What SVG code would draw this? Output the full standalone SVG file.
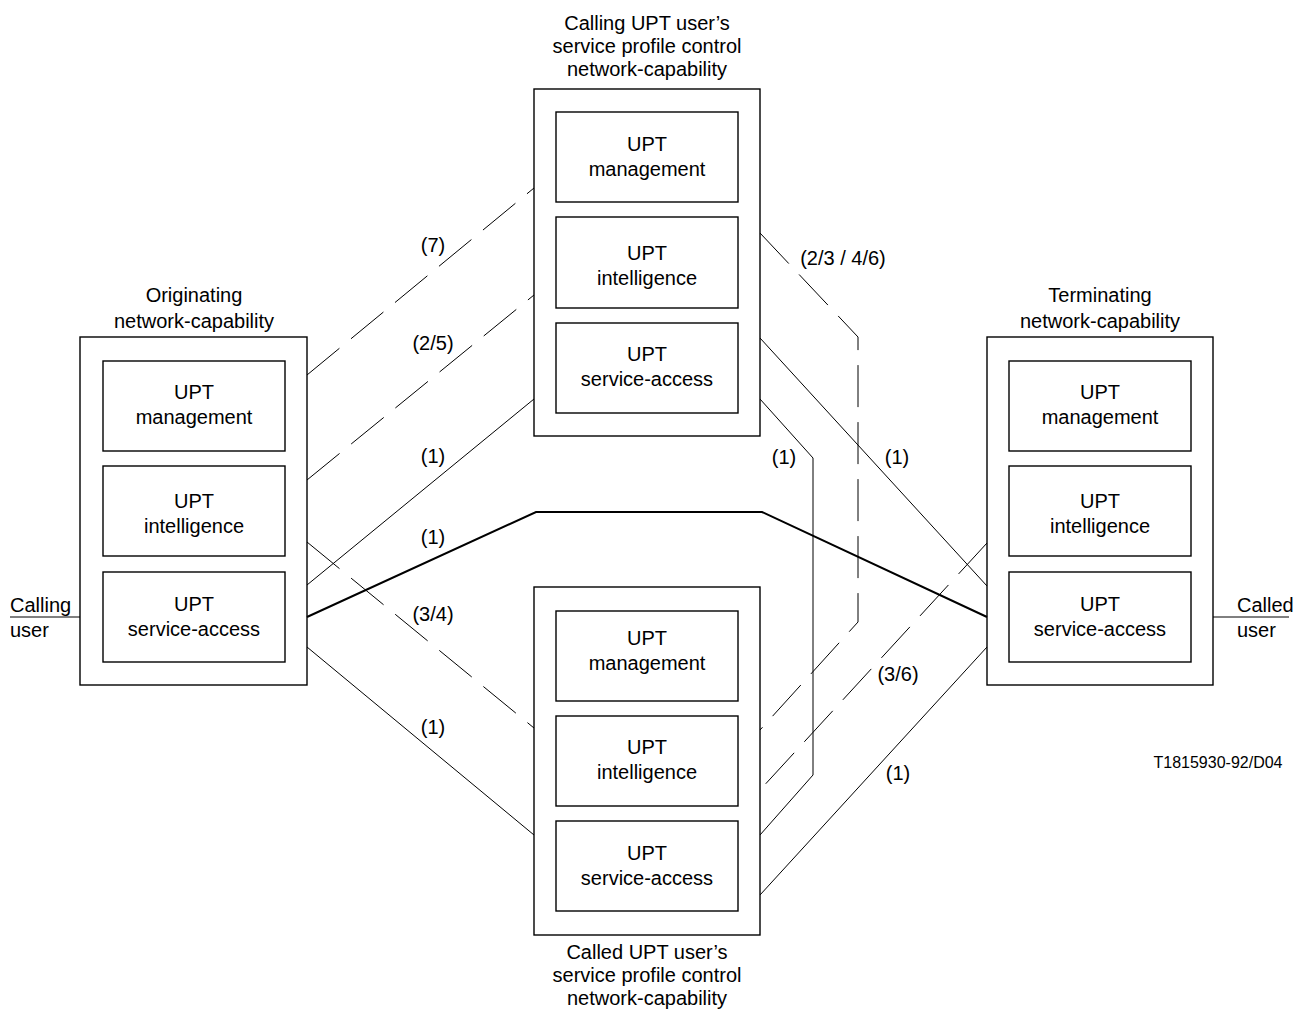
<svg xmlns="http://www.w3.org/2000/svg" width="1308" height="1014" viewBox="0 0 1308 1014">
<style>
text{font-family:"Liberation Sans",Arial,sans-serif;font-size:20px;fill:#000;text-anchor:middle}
.box{fill:none;stroke:#000;stroke-width:1.4}
.ln{fill:none;stroke:#000;stroke-width:1}
.dash{fill:none;stroke:#000;stroke-width:1;stroke-dasharray:42 15}
.thick{fill:none;stroke:#000;stroke-width:2}
</style>
<rect width="1308" height="1014" fill="#fff"/>
<g id="connectors">
<line class="dash" x1="307" y1="375" x2="534" y2="188"/>
<line class="dash" x1="307" y1="480" x2="534" y2="295"/>
<line class="ln" x1="307" y1="585" x2="534" y2="399"/>
<polyline class="thick" points="307,617 536,512 762,512 987,617"/>
<line class="dash" x1="307" y1="542" x2="534" y2="728"/>
<line class="ln" x1="307" y1="647" x2="534" y2="835"/>
<polyline class="dash" points="760,233 858,337 858,622 760,730"/>
<line class="ln" x1="760" y1="338" x2="987" y2="586"/>
<polyline class="ln" points="760,399 813,458 813,775 760,835"/>
<line class="dash" x1="987" y1="543" x2="760" y2="790"/>
<line class="ln" x1="987" y1="647" x2="760" y2="895"/>
<line class="ln" x1="10" y1="617" x2="80" y2="617"/>
<line class="ln" x1="1213" y1="617" x2="1289" y2="617"/>
</g>
<g id="labels">
<text x="433" y="252">(7)</text>
<text x="433" y="350">(2/5)</text>
<text x="433" y="463">(1)</text>
<text x="433" y="544">(1)</text>
<text x="433" y="621">(3/4)</text>
<text x="433" y="734">(1)</text>
<text x="843" y="265">(2/3 / 4/6)</text>
<text x="784" y="464">(1)</text>
<text x="897" y="464">(1)</text>
<text x="898" y="681">(3/6)</text>
<text x="898" y="780">(1)</text>
<text x="1218" y="768" style="font-size:16px">T1815930-92/D04</text>
<text x="10" y="612" style="text-anchor:start">Calling</text>
<text x="10" y="637" style="text-anchor:start">user</text>
<text x="1237" y="612" style="text-anchor:start">Called</text>
<text x="1237" y="637" style="text-anchor:start">user</text>
</g>
<g id="originating">
<text x="194" y="302">Originating</text>
<text x="194" y="328">network-capability</text>
<rect class="box" x="80" y="337" width="227" height="348"/>
<rect class="box" x="103" y="361" width="182" height="90"/>
<text x="194" y="399">UPT</text><text x="194" y="424">management</text>
<rect class="box" x="103" y="466" width="182" height="90"/>
<text x="194" y="508">UPT</text><text x="194" y="533">intelligence</text>
<rect class="box" x="103" y="572" width="182" height="90"/>
<text x="194" y="611">UPT</text><text x="194" y="636">service-access</text>
</g>
<g id="calling-spc">
<text x="647" y="30">Calling UPT user’s</text>
<text x="647" y="53">service profile control</text>
<text x="647" y="76">network-capability</text>
<rect class="box" x="534" y="89" width="226" height="347"/>
<rect class="box" x="556" y="112" width="182" height="90"/>
<text x="647" y="151">UPT</text><text x="647" y="176">management</text>
<rect class="box" x="556" y="217" width="182" height="91"/>
<text x="647" y="260">UPT</text><text x="647" y="285">intelligence</text>
<rect class="box" x="556" y="323" width="182" height="90"/>
<text x="647" y="361">UPT</text><text x="647" y="386">service-access</text>
</g>
<g id="called-spc">
<rect class="box" x="534" y="587" width="226" height="348"/>
<rect class="box" x="556" y="611" width="182" height="90"/>
<text x="647" y="645">UPT</text><text x="647" y="670">management</text>
<rect class="box" x="556" y="716" width="182" height="90"/>
<text x="647" y="754">UPT</text><text x="647" y="779">intelligence</text>
<rect class="box" x="556" y="821" width="182" height="90"/>
<text x="647" y="860">UPT</text><text x="647" y="885">service-access</text>
<text x="647" y="959">Called UPT user’s</text>
<text x="647" y="982">service profile control</text>
<text x="647" y="1005">network-capability</text>
</g>
<g id="terminating">
<text x="1100" y="302">Terminating</text>
<text x="1100" y="328">network-capability</text>
<rect class="box" x="987" y="337" width="226" height="348"/>
<rect class="box" x="1009" y="361" width="182" height="90"/>
<text x="1100" y="399">UPT</text><text x="1100" y="424">management</text>
<rect class="box" x="1009" y="466" width="182" height="90"/>
<text x="1100" y="508">UPT</text><text x="1100" y="533">intelligence</text>
<rect class="box" x="1009" y="572" width="182" height="90"/>
<text x="1100" y="611">UPT</text><text x="1100" y="636">service-access</text>
</g>
</svg>
